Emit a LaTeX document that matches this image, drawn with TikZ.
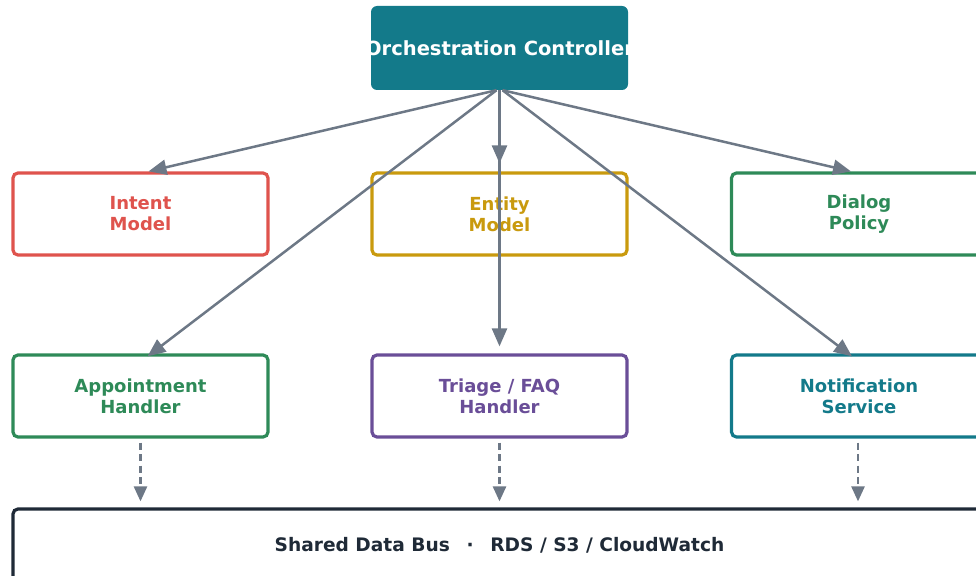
\documentclass[tikz,border=0pt]{standalone}
\usepackage{fontspec}
\setmainfont{DejaVu Sans}
\usetikzlibrary{arrows.meta}

\definecolor{tealc}{HTML}{137A8A}
\definecolor{redc}{HTML}{DF534D}
\definecolor{goldc}{HTML}{C99A0E}
\definecolor{greenc}{HTML}{2E8A58}
\definecolor{purplec}{HTML}{6A4E98}
\definecolor{darkc}{HTML}{1F2A37}
\definecolor{arrowc}{HTML}{6D7886}

\tikzset{
  box/.style={draw=#1, text=#1, fill=white, line width=3.2pt, rounded corners=5pt,
    minimum width=255pt, minimum height=82pt, inner sep=0pt, align=center,
    font=\bfseries\fontsize{18}{21}\selectfont},
  topbox/.style={fill=tealc, text=white, rounded corners=6pt,
    minimum width=257pt, minimum height=84pt, inner sep=0pt,
    font=\bfseries\fontsize{19.5}{23}\selectfont},
  busbox/.style={draw=darkc, text=darkc, fill=white, line width=3.2pt, rounded corners=5pt,
    minimum width=973pt, minimum height=72pt, inner sep=0pt,
    font=\bfseries\fontsize{18.6}{22}\selectfont},
  link/.style={draw=arrowc, line width=2.5pt, -{Triangle[length=18pt,width=15pt]}},
  feed/.style={draw=arrowc, line width=2.5pt, dash pattern=on 7pt off 4.5pt,
    -{Triangle[length=15pt,width=13pt]}}
}

\begin{document}
\begin{tikzpicture}[x=1pt,y=-1pt]
\useasboundingbox (0,0) rectangle (976,575);
\clip (0,0) rectangle (976,575);

% controller
\node[topbox] (orch) at (499.5,48) {\makebox[237pt][c]{Orchestration Controller}};

% first row
\node[box=redc] (intent) at (140.5,214) {Intent\\Model};
\node[box=goldc] (entity) at (499.5,214) {Entity\\Model};
\node[box=greenc] (dialog) at (859,214) {Dialog\\Policy};

% second row
\node[box=greenc] (appt) at (140.5,396) {Appointment\\Handler};
\node[box=purplec] (triage) at (499.5,396) {Triage / FAQ\\Handler};
\node[box=tealc] (notify) at (859,396) {Notification\\Service};

% data bus
\node[busbox] (bus) at (499.5,545) {Shared Data Bus\hspace{0.9em}·\hspace{0.9em}RDS / S3 / CloudWatch};

% controller to components
\draw[link] ([xshift=-3]orch.south) -- ([xshift=8]intent.north);
\draw[link, shorten >=8pt] (orch.south) -- (entity.north);
\draw[link] ([xshift=3]orch.south) -- ([xshift=-8]dialog.north);
\draw[link] ([xshift=-3]orch.south) -- ([xshift=7,yshift=-3]appt.north);
\draw[link, shorten >=7pt] (orch.south) -- (triage.north);
\draw[link] ([xshift=3]orch.south) -- ([xshift=-7,yshift=-3]notify.north);

% handlers to bus
\draw[feed, shorten <=4pt, shorten >=6pt] (appt.south) -- (appt.south |- bus.north);
\draw[feed, shorten <=4pt, shorten >=6pt] (triage.south) -- (triage.south |- bus.north);
\draw[feed, shorten <=4pt, shorten >=6pt] ([xshift=-1]notify.south) -- ([xshift=-1]notify.south |- bus.north);

\end{tikzpicture}
\end{document}
